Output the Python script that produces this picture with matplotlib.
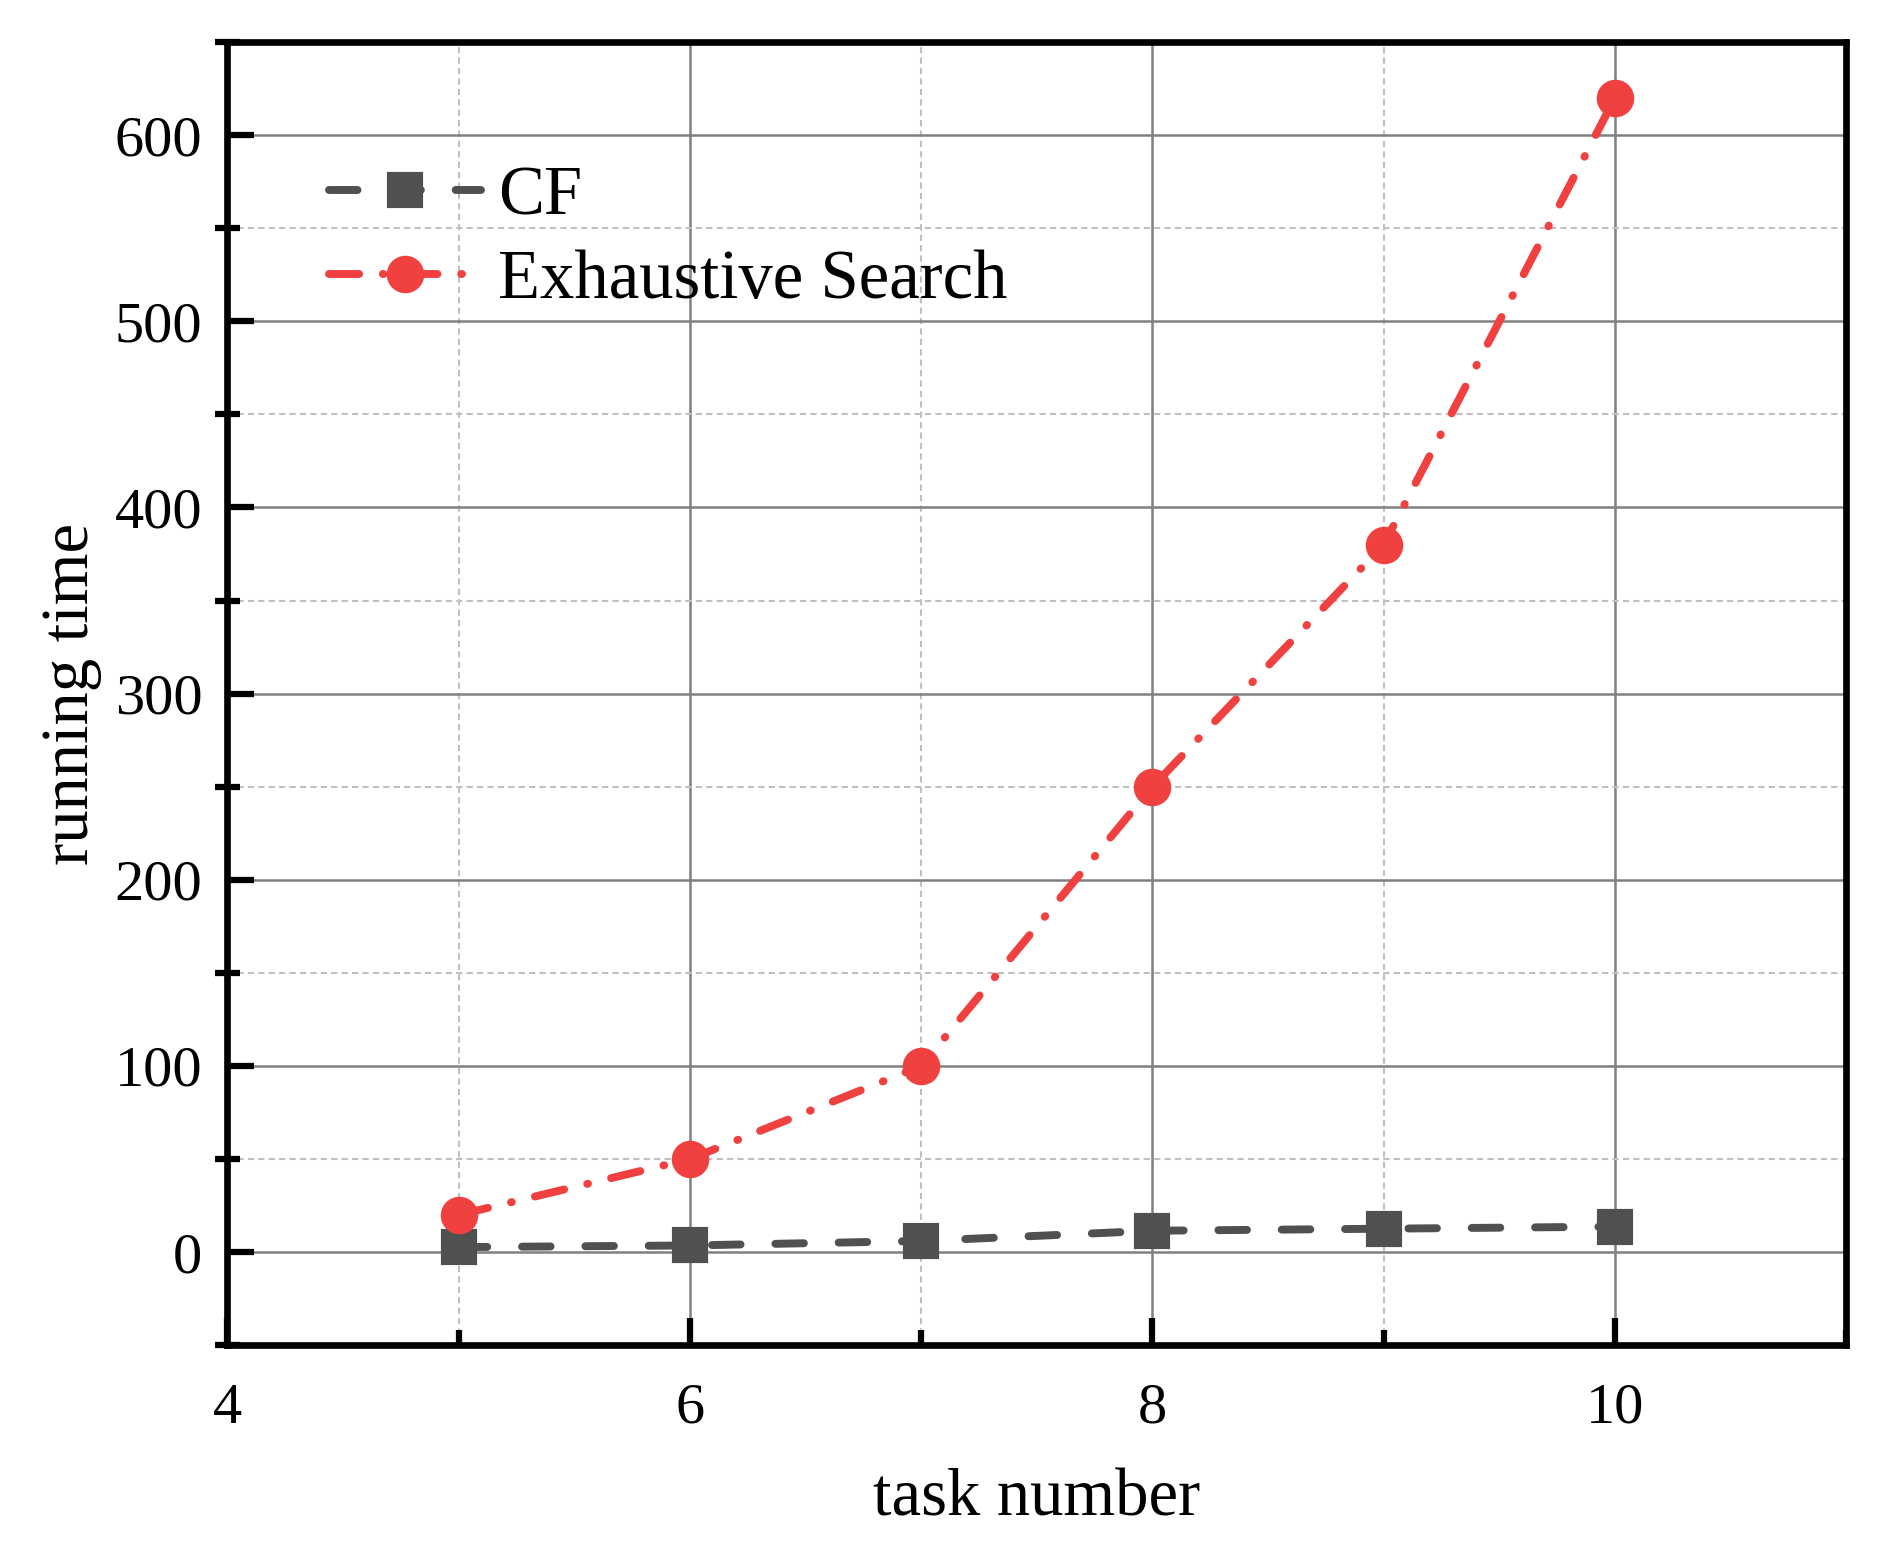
import matplotlib
matplotlib.use("Agg")
import matplotlib.pyplot as plt
from matplotlib.ticker import MultipleLocator

# data
task_number = [5, 6, 7, 8, 9, 10]
cf_time = [2.7, 3.6, 6, 11.5, 12.6, 13.7]
exhaustive_time = [20, 50, 100, 250, 380, 620]

plt.rcParams['font.family'] = ['Liberation Serif', 'DejaVu Serif']

fig = plt.figure(figsize=(1880 / 300, 1557 / 300), dpi=300)
ax = fig.add_axes([0.121, 0.136, 0.861, 0.837])

ax.plot(task_number, cf_time, color="#505050", linestyle=(0, (3.6, 4.4)),
        linewidth=1.9, marker="s", markersize=7.5, dash_capstyle="round",
        label="CF", zorder=3)
ax.plot(task_number, exhaustive_time, color="#F04040",
        linestyle=(0, (3.8, 3.0, 0.1, 3.0)), linewidth=1.9, marker="o",
        markersize=8, dash_capstyle="round",
        label="Exhaustive Search", zorder=3)

ax.set_xlim(4, 11)
ax.set_ylim(-50, 650)
ax.xaxis.set_major_locator(MultipleLocator(2))
ax.xaxis.set_minor_locator(MultipleLocator(1))
ax.yaxis.set_major_locator(MultipleLocator(100))
ax.yaxis.set_minor_locator(MultipleLocator(50))

ax.grid(which="major", color="#808080", linewidth=0.6, linestyle="-")
ax.grid(which="minor", color="#c0c0c0", linewidth=0.5, linestyle=(0, (3, 2)))
ax.set_axisbelow(True)

for s in ax.spines.values():
    s.set_linewidth(1.6)

ax.tick_params(axis="x", which="major", direction="in", length=6.5, width=1.5,
               labelsize=14, pad=9)
ax.tick_params(axis="x", which="minor", direction="in", length=3.5, width=1.5)
ax.tick_params(axis="y", which="major", direction="in", length=6.5, width=1.5,
               labelsize=14, pad=6)
ax.tick_params(axis="y", which="minor", direction="inout", length=6, width=1.5)

ax.set_xlabel("task number", fontsize=16, labelpad=8)
ax.set_ylabel("running time", fontsize=16, labelpad=3)

leg = ax.legend(loc="upper left", bbox_to_anchor=(0.063, 0.905), frameon=False,
                fontsize=16.5, handlelength=2.2, handletextpad=0.25,
                labelspacing=0.3, borderpad=0, borderaxespad=0)

fig.savefig("out.png", dpi=300)
